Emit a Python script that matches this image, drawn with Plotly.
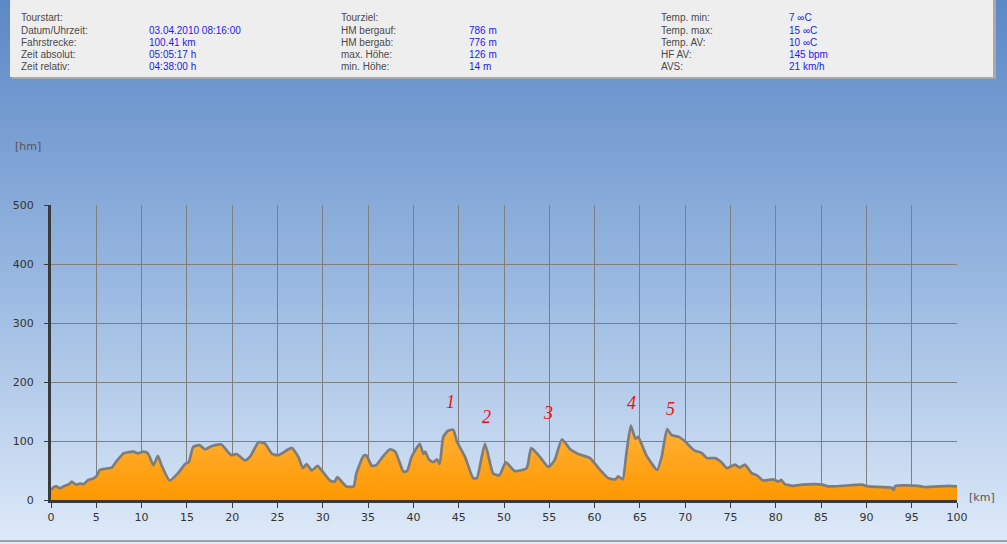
import plotly.graph_objects as go

# ---- data ----
km = [0.0, 0.3, 0.6, 1.0, 1.5, 2.0, 2.3, 2.8, 3.2, 3.6, 4.1, 4.6, 5.0, 5.4, 6.0, 6.7, 7.2, 8.0, 8.5, 9.1,
      9.6, 10.2, 10.7, 11.3, 11.8, 12.2, 13.1, 14.0, 14.8, 15.2, 15.7, 16.4, 17.0, 17.7, 18.8, 19.6, 19.9,
      20.5, 21.4, 22.0, 22.9, 23.6, 24.4, 25.1, 25.8, 26.2, 26.6, 27.3, 27.8, 28.2, 28.8, 29.4, 30.0, 30.8,
      31.3, 31.6, 32.1, 32.6, 33.4, 33.7, 34.5, 34.8, 35.4, 35.9, 36.5, 37.4, 38.0, 38.9, 39.3, 39.8, 40.7,
      41.1, 41.3, 41.7, 42.2, 42.6, 42.9, 43.3, 43.8, 44.4, 44.8, 45.7, 46.6, 47.0, 47.9, 48.8, 49.5, 50.2,
      51.2, 52.5, 53.0, 53.8, 54.9, 55.6, 56.4, 57.3, 58.2, 59.5, 60.6, 61.5, 62.3, 62.6, 63.1, 63.5, 64.0,
      64.5, 64.8, 65.7, 66.9, 67.4, 68.0, 68.5, 69.3, 70.0, 71.0, 71.8, 72.4, 73.3, 74.0, 74.6, 75.5, 76.0,
      76.6, 77.3, 77.9, 78.6, 79.7, 80.3, 80.6, 81.0, 81.9, 82.9, 84.3, 85.1, 85.8, 87.3, 89.5, 90.2, 92.8,
      93.0, 93.2, 95.7, 96.4, 99.1, 100.0]
elev = [17, 22, 23, 20, 24, 27, 31, 26, 28, 27, 34, 36, 40, 51, 53, 55, 65, 79, 81, 82,
        79, 82, 79, 59, 75, 59, 33, 45, 61, 64, 90, 93, 86, 91, 94, 80, 76,
        78, 67, 74, 98, 96, 78, 76, 82, 86, 88, 73, 54, 61, 50, 58, 48, 33,
        31, 39, 31, 23, 23, 45, 75, 76, 58, 59, 71, 86, 82, 48, 49, 73, 95,
        78, 82, 69, 64, 69, 61, 107, 117, 119, 99, 73, 37, 37, 95, 45, 42, 64,
        49, 54, 88, 76, 56, 68, 103, 86, 78, 71, 51, 37, 35, 40, 35, 78, 126,
        104, 107, 76, 51, 73, 120, 110, 107, 99, 84, 80, 71, 71, 64, 54, 60, 55,
        60, 46, 42, 33, 35, 31, 34, 27, 24, 26, 27, 26, 23, 24, 26, 23, 21,
        17, 24, 24, 22, 24, 23]

marker_labels = ["1", "2", "3", "4", "5"]
marker_x = [44.1, 48.1, 54.9, 64.1, 68.4]
marker_y = [166, 141, 147, 164, 154]

x_ticks = list(range(0, 101, 5))
y_ticks = [0, 100, 200, 300, 400, 500]

header_cols = [
    (["Tourstart:", "Datum/Uhrzeit:", "Fahrstrecke:", "Zeit absolut:", "Zeit relativ:"],
     ["", "03.04.2010 08:16:00", "100.41 km", "05:05:17 h", "04:38:00 h"]),
    (["Tourziel:", "HM bergauf:", "HM bergab:", "max. Höhe:", "min. Höhe:"],
     ["", "786 m", "776 m", "126 m", "14 m"]),
    (["Temp. min:", "Temp. max:", "Temp. AV:", "HF AV:", "AVS:"],
     ["7 ∞C", "15 ∞C", "10 ∞C", "145 bpm", "21 km/h"]),
]

# ---- layout geometry ----
W, H = 1007, 544
ML, MR, MT, MB = 51, 50, 205, 44
PW, PH = W - ML - MR, H - MT - MB


def px(x):
    return (x - ML) / PW


def py(y):
    return (H - MB - y) / PH


def lerp(c1, c2, t):
    return "rgb(%d,%d,%d)" % tuple(round(a + (b - a) * t) for a, b in zip(c1, c2))


shapes = []
top_c = (92, 136, 197)
mid_c = (150, 182, 224)
bot_c = (222, 234, 248)
step = 4
for y0 in range(0, H, step):
    t = (y0 + step / 2) / H
    if t < 0.5:
        col = lerp(top_c, mid_c, t / 0.5)
    else:
        col = lerp(mid_c, bot_c, (t - 0.5) / 0.5)
    shapes.append(dict(type="rect", xref="paper", yref="paper", layer="below",
                       x0=px(0), x1=px(W), y0=py(y0 + step + 0.5), y1=py(y0),
                       fillcolor=col, line=dict(width=0)))

# header panel with shadow
shapes.append(dict(type="rect", xref="paper", yref="paper", layer="below",
                   x0=px(12), x1=px(996), y0=py(79), y1=py(-2),
                   fillcolor="#a9a9a9", line=dict(width=0)))
shapes.append(dict(type="rect", xref="paper", yref="paper", layer="below",
                   x0=px(10), x1=px(993), y0=py(77), y1=py(-2),
                   fillcolor="#eeeeee", line=dict(width=0)))
# bottom frame line
shapes.append(dict(type="rect", xref="paper", yref="paper", layer="below",
                   x0=px(0), x1=px(W), y0=py(542), y1=py(540),
                   fillcolor="#a0a0a0", line=dict(width=0)))

annotations = []
row_y = [17, 30, 42, 54, 66]
col_x = [(19, 147), (339, 467), (659, 787)]
for (labels, values), (lx, vx) in zip(header_cols, col_x):
    for lab, val, yy in zip(labels, values, row_y):
        annotations.append(dict(text=lab, xref="paper", yref="paper", x=px(lx), y=py(yy),
                                xanchor="left", yanchor="middle", showarrow=False,
                                font=dict(family="Liberation Sans", size=10, color="#4a4a4a")))
        if val:
            annotations.append(dict(text=val, xref="paper", yref="paper", x=px(vx), y=py(yy),
                                    xanchor="left", yanchor="middle", showarrow=False,
                                    font=dict(family="Liberation Sans", size=10, color="#1c1cf0")))

annotations.append(dict(text="[hm]", xref="paper", yref="paper", x=px(13), y=py(146),
                        xanchor="left", yanchor="middle", showarrow=False,
                        font=dict(family="DejaVu Sans", size=11, color="#555555")))
annotations.append(dict(text="[km]", xref="paper", yref="paper", x=px(967), y=py(497),
                        xanchor="left", yanchor="middle", showarrow=False,
                        font=dict(family="DejaVu Sans", size=11, color="#555555")))

for lab, mx, my in zip(marker_labels, marker_x, marker_y):
    annotations.append(dict(text="<i>%s</i>" % lab, x=mx, y=my, xref="x", yref="y",
                            showarrow=False, xanchor="center", yanchor="middle",
                            font=dict(family="Liberation Serif", size=18, color="#ee1111")))

fig = go.Figure()
fig.add_trace(go.Scatter(
    x=km, y=elev, mode="lines", fill="tozeroy",
    line=dict(color="#7d7d7d", width=2.7, shape="spline", smoothing=0.5),
    fillgradient=dict(type="vertical", start=0, stop=130,
                      colorscale=[[0, "#ff9800"], [1, "#ffb23a"]]),
    hoverinfo="skip", showlegend=False))

fig.update_layout(
    width=W, height=H, autosize=False,
    margin=dict(l=ML, r=MR, t=MT, b=MB, pad=0),
    paper_bgcolor="#dfeaf7", plot_bgcolor="rgba(0,0,0,0)",
    shapes=shapes, annotations=annotations, showlegend=False,
    xaxis=dict(range=[0, 100], tickvals=x_ticks, ticktext=[str(v) for v in x_ticks],
               showgrid=True, gridcolor="#7f7f7f", gridwidth=1, zeroline=False,
               showline=True, linecolor="#3a3a3a", linewidth=3,
               ticks="outside", ticklen=5, tickcolor="#3a3a3a",
               tickfont=dict(family="DejaVu Sans", size=11, color="#333333"),
               fixedrange=True),
    yaxis=dict(range=[0, 500], tickvals=y_ticks, ticktext=[str(v) for v in y_ticks],
               showgrid=True, gridcolor="#7f7f7f", gridwidth=1, zeroline=False,
               showline=True, linecolor="#3a3a3a", linewidth=3,
               ticks="outside", ticklen=4, tickcolor="#3a3a3a",
               ticklabelstandoff=8,
               tickfont=dict(family="DejaVu Sans", size=11, color="#333333"),
               fixedrange=True),
)

fig.write_html("out.html", config={"displayModeBar": False})
